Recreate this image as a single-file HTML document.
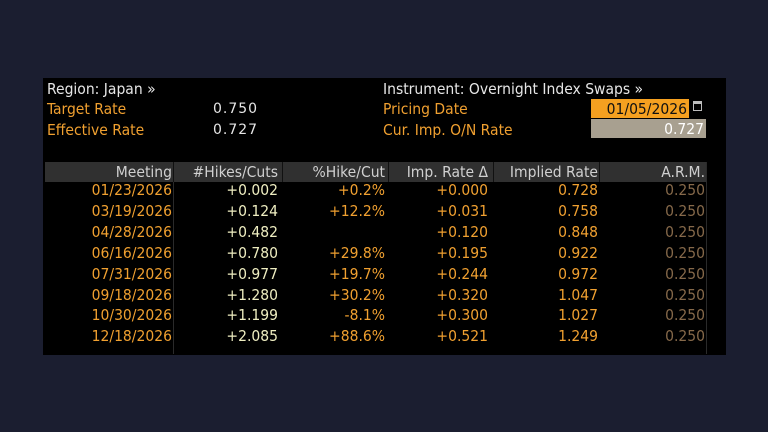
<!DOCTYPE html>
<html><head><meta charset="utf-8"><style>
body{margin:0;width:768px;height:432px;background:#1b1e30;overflow:hidden;font-family:"DejaVu Sans Condensed","Liberation Sans Narrow","Liberation Sans",sans-serif;font-stretch:condensed}
#p{position:absolute;left:43px;top:78px;width:683px;height:277px;background:#000}
.t{position:absolute;font-size:15.5px;line-height:20px;white-space:nowrap}
.r{text-align:right}
.w{color:#e6e6e6}.o{color:#f0a030}.y{color:#eeedc0}.b{color:#86694a}
#hdr{position:absolute;left:45px;top:162px;width:661px;height:20px;background:#303030}
.vl{position:absolute;top:162px;width:1px;height:20px;background:#111}
</style></head><body>
<div id="p"></div>
<div class="t w" style="left:47px;top:79px">Region: Japan »</div>
<div class="t o" style="left:47px;top:99px">Target Rate</div>
<div class="t o" style="left:47px;top:120px">Effective Rate</div>
<div class="t w" style="left:213px;top:99px;font-family:'DejaVu Sans',sans-serif;font-stretch:normal;font-size:14px;letter-spacing:1px">0.750</div>
<div class="t w" style="left:213px;top:120px;font-family:'DejaVu Sans',sans-serif;font-stretch:normal;font-size:14px;letter-spacing:1px">0.727</div>
<div class="t w" style="left:383px;top:79px">Instrument: Overnight Index Swaps »</div>
<div class="t o" style="left:383px;top:99px">Pricing Date</div>
<div class="t o" style="left:383px;top:120px">Cur. Imp. O/N Rate</div>
<div style="position:absolute;left:591px;top:99px;width:98px;height:19px;background:#f5a020"></div>
<div class="t r" style="left:591px;top:99px;width:96px;color:#111">01/05/2026</div>
<div style="position:absolute;left:693px;top:101px;width:9px;height:10px;border:1px solid #bbb;border-top-width:3px;box-sizing:border-box"></div>
<div style="position:absolute;left:591px;top:119px;width:115px;height:19px;background:#a8a090"></div>
<div class="t r" style="left:591px;top:119px;width:113px;color:#fff">0.727</div>
<div id="hdr"></div>
<div class="vl" style="left:173px"></div><div class="vl" style="left:282px"></div><div class="vl" style="left:388px"></div><div class="vl" style="left:493px"></div><div class="vl" style="left:599px"></div>
<div style="position:absolute;left:173px;top:182px;width:1px;height:172px;background:#2a2a2a"></div>
<div style="position:absolute;left:706px;top:162px;width:1px;height:192px;background:#2a2a2a"></div>
<div id="rows"></div>
<script>
var cols=[[45,127,'o'],[175,103,'y'],[284,101,'o'],[390,98,'o'],[495,103,'o'],[601,104,'b']];
var hd=['Meeting','#Hikes/Cuts','%Hike/Cut','Imp. Rate Δ','Implied Rate','A.R.M.'];
var d=[['01/23/2026','+0.002','+0.2%','+0.000','0.728','0.250'],
['03/19/2026','+0.124','+12.2%','+0.031','0.758','0.250'],
['04/28/2026','+0.482','','+0.120','0.848','0.250'],
['06/16/2026','+0.780','+29.8%','+0.195','0.922','0.250'],
['07/31/2026','+0.977','+19.7%','+0.244','0.972','0.250'],
['09/18/2026','+1.280','+30.2%','+0.320','1.047','0.250'],
['10/30/2026','+1.199','-8.1%','+0.300','1.027','0.250'],
['12/18/2026','+2.085','+88.6%','+0.521','1.249','0.250']];
var h='';
cols.forEach(function(c,i){h+='<div class="t r" style="color:#d0d0d0;left:'+c[0]+'px;top:162px;width:'+c[1]+'px">'+hd[i]+'</div>';});
d.forEach(function(r,j){var top=180+j*20.9;r.forEach(function(v,i){var c=cols[i];h+='<div class="t r '+c[2]+'" style="left:'+c[0]+'px;top:'+top+'px;width:'+c[1]+'px">'+v+'</div>';});});
document.getElementById('rows').innerHTML=h;
</script>
</body></html>
